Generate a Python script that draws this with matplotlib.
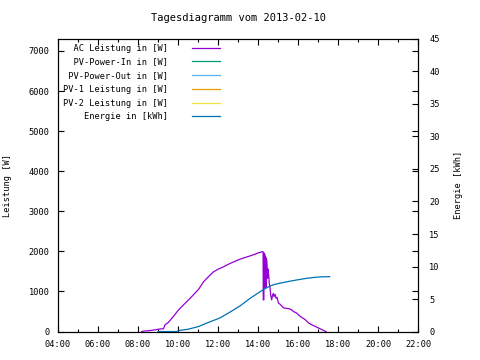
import matplotlib
matplotlib.use("Agg")
import matplotlib.pyplot as plt
from matplotlib.ticker import MultipleLocator, FuncFormatter

plt.rcParams["font.family"] = ["DejaVu Sans Mono"]
plt.rcParams["font.size"] = 6.2

# time in hours, power in W
ac_t = [8.18, 8.25, 8.6, 8.93, 9.1, 9.27, 9.35, 9.52, 9.77, 10.02, 10.35, 10.68,
        11.02, 11.27, 11.52, 11.77, 12.02, 12.27, 12.52, 12.77, 13.02, 13.27, 13.5,
        13.68, 13.85, 14.02, 14.12, 14.20, 14.25, 14.26, 14.29, 14.30, 14.33, 14.35,
        14.36, 14.38, 14.40, 14.42, 14.45, 14.47, 14.50, 14.53, 14.56, 14.60, 14.63,
        14.68, 14.72, 14.76, 14.80, 14.85, 14.90, 14.95, 15.02, 15.10, 15.20, 15.27,
        15.40, 15.55, 15.68, 15.77, 15.93, 16.10, 16.35, 16.52, 16.68, 16.85, 17.02,
        17.18, 17.30, 17.40]
ac_p = [0, 10, 25, 50, 65, 70, 170, 230, 380, 540, 705, 870,
        1050, 1240, 1370, 1490, 1560, 1615, 1680, 1735, 1790, 1835, 1870,
        1900, 1930, 1965, 1975, 1995, 1990, 790, 790, 1960, 1930, 1900,
        1090, 1860, 1110, 1810, 1660, 1330, 1560, 1410, 1210, 1080, 915,
        790, 900, 950, 870, 930, 830, 850, 710, 680, 630, 590,
        580, 570, 540, 500, 460, 380, 300, 215, 170, 130, 90,
        50, 20, 0]

energy_t = [9.0, 9.93, 10.02, 10.52, 11.02, 11.35, 11.6, 12.1, 12.6, 13.1, 13.6,
            14.1, 14.35, 14.6, 14.85, 15.2, 15.6, 15.93, 16.43, 16.85, 17.2, 17.58]
energy_kwh = [0, 0, 0.15, 0.37, 0.77, 1.2, 1.5, 2.1, 3.0, 3.95, 5.1,
              6.13, 6.6, 7.0, 7.27, 7.5, 7.75, 7.93, 8.19, 8.34, 8.42, 8.44]

# series without visible data on this day
pv_in_t, pv_in_p = [], []
pv_out_t, pv_out_p = [], []
pv1_t, pv1_p = [], []
pv2_t, pv2_p = [], []

labels = ["AC Leistung in [W]", "PV-Power-In in [W]", "PV-Power-Out in [W]",
          "PV-1 Leistung in [W]", "PV-2 Leistung in [W]", "Energie in [kWh]"]
colors = ["#9400d3", "#009e73", "#56b4e9", "#e69f00", "#f0e442", "#0072b2"]

fig = plt.figure(figsize=(4.8, 3.6), dpi=100)
ax = fig.add_axes([0.121, 0.079, 0.750, 0.813])
ax2 = ax.twinx()

lw = 0.9
h = []
h += ax.plot(ac_t, ac_p, color=colors[0], lw=lw)
h += ax.plot(pv_in_t, pv_in_p, color=colors[1], lw=lw)
h += ax.plot(pv_out_t, pv_out_p, color=colors[2], lw=lw)
h += ax.plot(pv1_t, pv1_p, color=colors[3], lw=lw)
h += ax.plot(pv2_t, pv2_p, color=colors[4], lw=lw)
h += ax2.plot(energy_t, energy_kwh, color=colors[5], lw=lw)

ax.set_xlim(4, 22)
ax.set_ylim(0, 7300)
ax2.set_ylim(0, 45)

ax.xaxis.set_major_locator(MultipleLocator(2))
ax.xaxis.set_minor_locator(MultipleLocator(1))
ax.xaxis.set_major_formatter(FuncFormatter(lambda v, p: "%02d:00" % int(round(v))))
ax.yaxis.set_major_locator(MultipleLocator(1000))
ax2.yaxis.set_major_locator(MultipleLocator(5))

ax.tick_params(which="both", direction="in", top=True, right=True, width=0.8)
ax.tick_params(which="major", length=4, pad=6)
ax.tick_params(which="minor", length=2)
ax2.tick_params(direction="in", length=4, width=0.8, pad=8)

for a in (ax, ax2):
    for s in a.spines.values():
        s.set_linewidth(0.8)

ax.set_ylabel("Leistung [W]", labelpad=12)
ax2.set_ylabel("Energie [kWh]", labelpad=10)
ax.set_title("Tagesdiagramm vom 2013-02-10", pad=13)

w = max(len(s) for s in labels)
leg = ax2.legend(h, [s.rjust(w) for s in labels], loc="upper left",
                 frameon=False, markerfirst=False, handlelength=3.3,
                 handletextpad=2.8, labelspacing=0.55, borderaxespad=0.35,
                 borderpad=0.2)

fig.savefig("out.png", dpi=100)
